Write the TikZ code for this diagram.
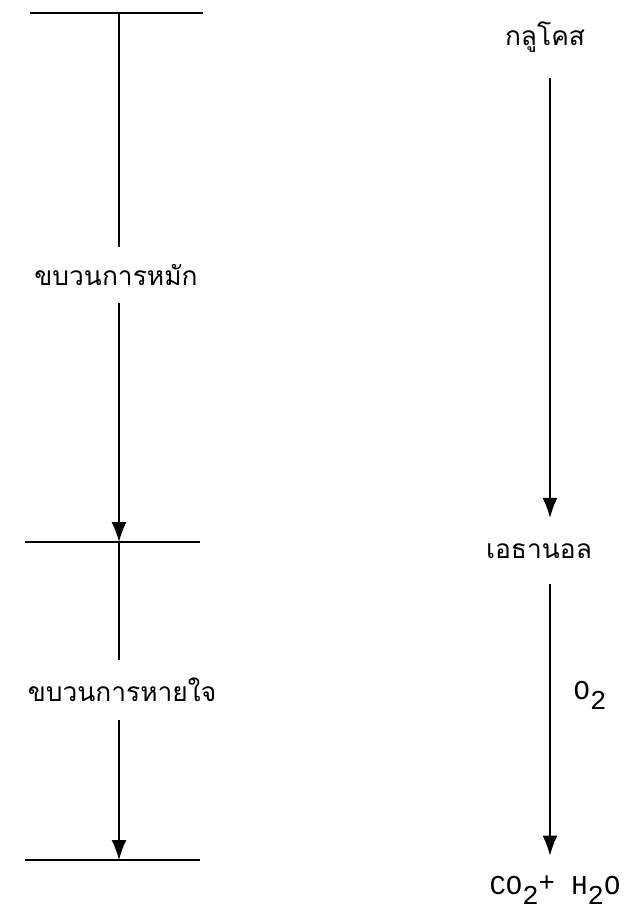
\documentclass[tikz,border=0pt]{standalone}
\usepackage{fontspec}
\setmonofont{Liberation Mono}
\newfontfamily\thaifont[Script=Thai]{Loma}
\usetikzlibrary{arrows.meta}

% lowered digit, typewriter style
\newcommand{\lowdigit}[1]{\raisebox{-0.7ex}{#1}}

\begin{document}
\begin{tikzpicture}[>={Latex[length=0.4cm,width=0.3cm]}, line width=0.8pt,
  thai/.style={font=\thaifont\fontsize{15}{18}\selectfont, inner sep=0.34cm},
  chem/.style={font=\ttfamily\fontsize{15.5}{18}\selectfont, inner sep=0.38cm}]

\useasboundingbox (0,0) rectangle (12.84,-18.26);

% Stage lines on the left
\coordinate (T1) at (0.6,-0.26);
\coordinate (T2) at (4.06,-0.26);
\coordinate (M1) at (0.5,-10.84);
\coordinate (M2) at (4.0,-10.84);
\coordinate (B1) at (0.5,-17.2);
\coordinate (B2) at (4.0,-17.2);

\coordinate (LX) at (2.38,0);

\draw (T1) -- (T2);
\draw (M1) -- (M2);
\draw (B1) -- (B2);

% Process names
\node[thai] (FERM) at (2.32,-5.5) {ขบวนการหมัก};
\node[thai] (RESP) at (2.44,-13.8) {ขบวนการหายใจ};

\draw (T1 -| LX) -- (FERM.north -| LX);
\draw[->] (FERM.south -| LX) -- (M1 -| LX);
\draw (M1 -| LX) -- (RESP.north -| LX);
\draw[->] (RESP.south -| LX) -- (B1 -| LX);

% Compounds on the right
\coordinate (AX) at (11.0,0);

\node[thai, inner sep=0.5cm] (GLU) at (10.9,-0.74) {กลูโคส};
\node[thai, inner sep=0.5cm] (ETH) at (10.78,-11.02) {เอธานอล};
\node[chem] (PROD) at (11.1,-17.8) {CO\lowdigit{2}\raisebox{0.25ex}{+} H\lowdigit{2}O};

\node[font=\ttfamily\fontsize{15.5}{18}\selectfont] (OXY) at (11.8,-13.90) {O\lowdigit{2}};

\draw[->] (GLU.south -| AX) -- (ETH.north -| AX);
\draw[->] (ETH.south -| AX) -- (PROD.north -| AX);

\end{tikzpicture}
\end{document}
